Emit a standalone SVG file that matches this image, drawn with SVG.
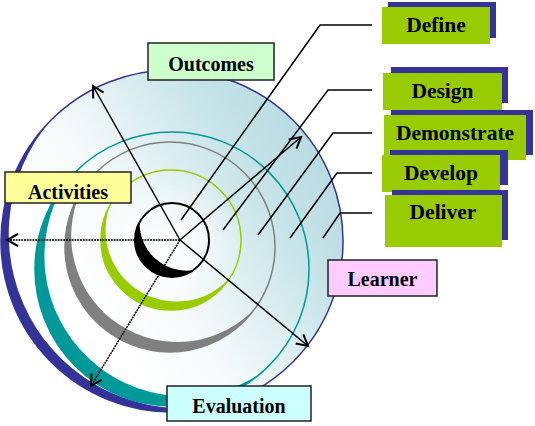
<svg xmlns="http://www.w3.org/2000/svg" width="535" height="426" viewBox="0 0 535 426">
<defs>
<linearGradient id="bg" gradientUnits="userSpaceOnUse" x1="90" y1="300" x2="320" y2="150">
<stop offset="0" stop-color="#ffffff"/>
<stop offset="0.3" stop-color="#f3f9fa"/>
<stop offset="0.75" stop-color="#c6e3e8"/>
<stop offset="1" stop-color="#b8dbe2"/>
</linearGradient>
<radialGradient id="glow" gradientUnits="userSpaceOnUse" cx="172" cy="245" r="75">
<stop offset="0" stop-color="#ffffff" stop-opacity="0.95"/>
<stop offset="1" stop-color="#ffffff" stop-opacity="0"/>
</radialGradient>
<marker id="ah" markerUnits="userSpaceOnUse" markerWidth="16" markerHeight="16" refX="0" refY="0" viewBox="-13 -8 16 16" orient="auto">
<path d="M-11,-6 L0,0 L-11,6" fill="none" stroke="#000" stroke-width="2"/>
</marker>
<style>
.lbl{font-family:"Liberation Serif","Times New Roman",serif;font-weight:bold;font-size:20px;text-anchor:middle;fill:#000}
.rl{font-size:21.5px}
.box{stroke:#222;stroke-width:1.5}
.nv{fill:#333399}
.gr{fill:#99cc00}
.ld{fill:none;stroke:#000;stroke-width:1.5}
.ar{fill:none;stroke:#000;stroke-width:1.5;marker-end:url(#ah)}
.dot{stroke-dasharray:2 0.8}
</style>
</defs>

<g id="disc">
<circle cx="172" cy="241" r="171" fill="url(#bg)"/>
<circle cx="172" cy="241" r="75" fill="url(#glow)"/>
</g>

<g id="ring-navy">
<circle cx="172" cy="241" r="171" fill="none" stroke="#333399" stroke-width="1.5"/>
<path d="M230.5,401.7 A171,171 0 0 1 51.1,120.1 A174.3,174.3 0 0 0 230.5,401.7 Z" fill="#333399"/>
</g>
<g id="ring-teal">
<circle cx="172" cy="269" r="137" fill="none" stroke="#009999" stroke-width="1.5"/>
<path d="M260.06,373.95 A137,137 0 0 1 64.04,184.65 A140,140 0 0 0 260.06,373.95 Z" fill="#009999"/>
</g>
<g id="ring-gray">
<circle cx="170" cy="247" r="105" fill="none" stroke="#808080" stroke-width="1.5"/>
<path d="M256.01,307.23 A105,105 0 0 1 80.96,191.36 A106.2,106.2 0 0 0 256.01,307.23 Z" fill="#808080"/>
</g>
<g id="ring-green">
<circle cx="171" cy="240" r="70" fill="none" stroke="#99cc00" stroke-width="1.5"/>
<path d="M229.71,278.12 A70,70 0 0 1 109.78,206.06 A71.3,71.3 0 0 0 229.71,278.12 Z" fill="#99cc00"/>
</g>
<g id="ring-black">
<circle cx="172" cy="240" r="37" fill="none" stroke="#000" stroke-width="2"/>
<path d="M193.22,270.31 A37,37 0 0 1 139.64,222.06 A47.3,47.3 0 0 0 193.22,270.31 Z" fill="#000"/>
</g>

<g id="connectors">
<path class="ar" d="M180,240 L93,86"/>
<path class="ar dot" d="M180,240 L7,240"/>
<path class="ar dot" d="M180,240 L91,386"/>
<path class="ar" d="M180,240 L308,346"/>
<path class="ar" d="M180,240 L301,137"/>
<path class="ld" d="M372,25 H320 L181,220"/>
<path class="ld" d="M372,90 H328 L223,230"/>
<path class="ld" d="M372,133 H333 L258,235"/>
<path class="ld" d="M372,173 H337 L290,238"/>
<path class="ld" d="M372,213 H340 L323,238"/>
</g>

<g id="outcomes">
<rect class="box" x="148" y="43" width="126" height="37" fill="#ccffcc"/>
<text class="lbl" x="211" y="71">Outcomes</text>
</g>
<g id="activities">
<rect class="box" x="5" y="172" width="126" height="31" fill="#ffff99"/>
<text class="lbl" x="68" y="199">Activities</text>
</g>
<g id="evaluation">
<rect class="box" x="167" y="386" width="144" height="35" fill="#ccffff"/>
<text class="lbl" x="239" y="413">Evaluation</text>
</g>
<g id="learner">
<rect class="box" x="328" y="260" width="109" height="36" fill="#ffccff"/>
<text class="lbl" x="382.5" y="286">Learner</text>
</g>

<g id="define">
<rect class="nv" x="388" y="2" width="108" height="36"/>
<rect class="gr" x="382" y="7" width="108" height="37"/>
<text class="lbl rl" x="436" y="32">Define</text>
</g>
<g id="design">
<rect class="nv" x="391" y="67" width="117" height="36"/>
<rect class="gr" x="383" y="73" width="119" height="37"/>
<text class="lbl rl" x="442.5" y="98">Design</text>
</g>
<g id="demonstrate">
<rect class="nv" x="391" y="110" width="142" height="45"/>
<rect class="gr" x="384" y="115" width="142" height="45"/>
<text class="lbl rl" x="455" y="140">Demonstrate</text>
</g>
<g id="develop">
<rect class="nv" x="390" y="150" width="118" height="35"/>
<rect class="gr" x="382" y="155" width="118" height="37"/>
<text class="lbl rl" x="441" y="180">Develop</text>
</g>
<g id="deliver">
<rect class="nv" x="392" y="190" width="116" height="50"/>
<rect class="gr" x="385" y="195" width="117" height="52"/>
<text class="lbl rl" x="443" y="219">Deliver</text>
</g>
</svg>
